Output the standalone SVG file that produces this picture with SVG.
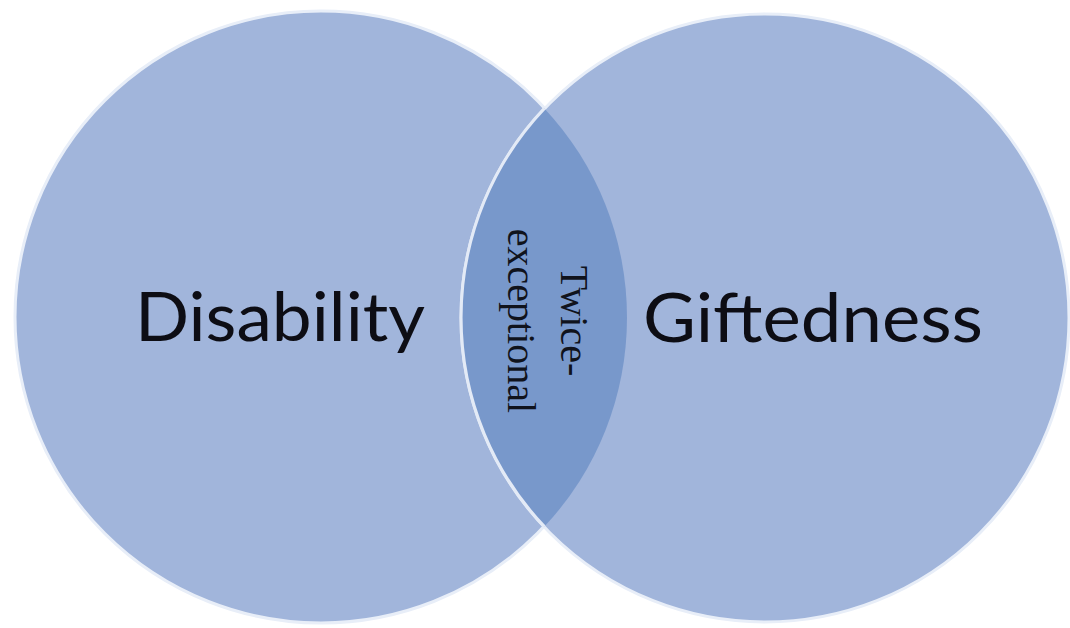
<svg xmlns="http://www.w3.org/2000/svg" width="1070" height="628" viewBox="0 0 1070 628">
  <style>
    .circle { fill: #A1B5DB; stroke: #E8EEF8; stroke-width: 3; }
    .edge { fill: none; stroke: #E3EAF6; stroke-width: 3; }
    .lens { fill: #7898CB; }
    .label { font-family: Lato, "Liberation Sans", Arial, sans-serif; font-size: 67px; fill: #0d0d14; }
    .mid { font-family: "Liberation Serif", "Times New Roman", serif; font-size: 40px; fill: #10131c; text-anchor: middle; }
  </style>
  <rect width="1070" height="628" fill="#ffffff"/>
  <g id="disability">
    <circle class="circle" cx="321" cy="317" r="306"/>
    <text class="label" x="135" y="341" textLength="290" lengthAdjust="spacingAndGlyphs">Disability</text>
  </g>
  <g id="giftedness">
    <circle class="circle" cx="765" cy="318" r="304"/>
    <text class="label" x="643" y="342" textLength="340" lengthAdjust="spacingAndGlyphs">Giftedness</text>
  </g>
  <g id="twice-exceptional">
    <path class="lens" d="M 544.4 108.4 A 306 306 0 0 1 544.4 526.6 A 304 304 0 0 1 544.4 108.4 Z"/>
    <path class="edge" d="M 544.4 108.4 A 304 304 0 0 0 544.4 526.6"/>
    <text class="mid" transform="translate(561 321) rotate(90)"><tspan x="0" y="0">Twice-</tspan><tspan x="0" dy="53">exceptional</tspan></text>
  </g>
  <g id="connectors"></g>
</svg>
